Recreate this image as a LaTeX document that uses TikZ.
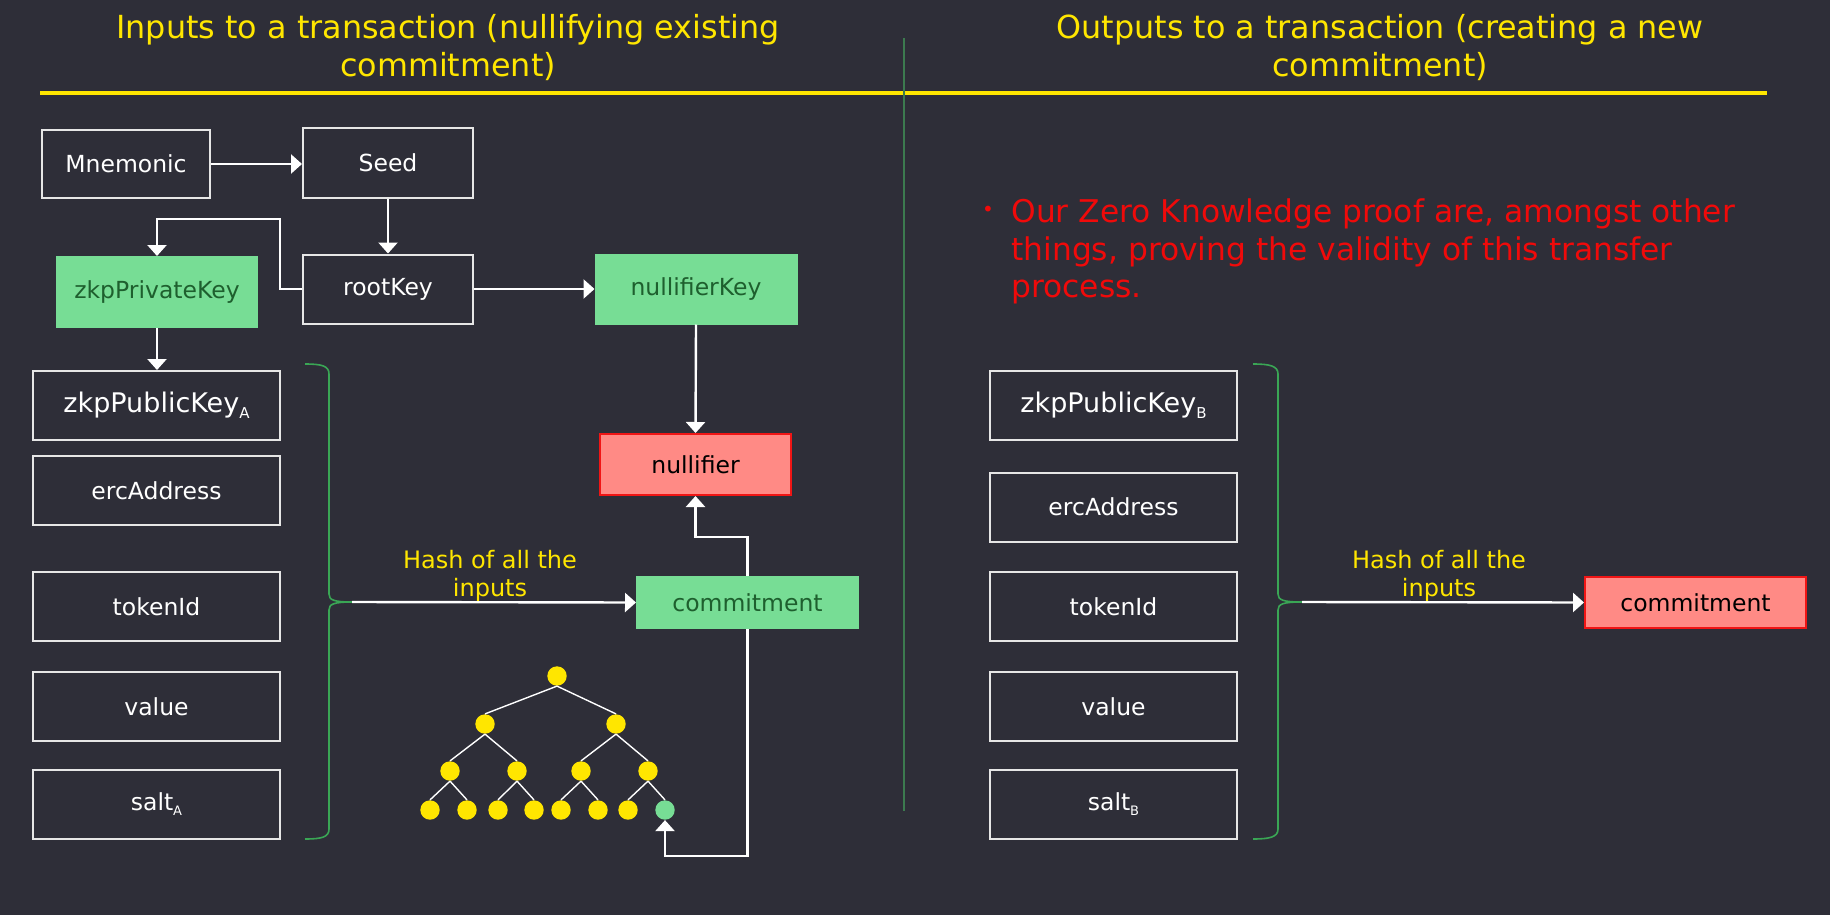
\documentclass[tikz,border=0pt]{standalone}
\usepackage{fontspec}
\setmainfont{DejaVu Sans}
\usetikzlibrary{arrows.meta}
\definecolor{bg}{HTML}{2E2E38}
\definecolor{boxline}{HTML}{E6E6E6}
\definecolor{gfill}{HTML}{77DD95}
\definecolor{gtext}{HTML}{1E5F2E}
\definecolor{rfill}{HTML}{FF8A85}
\definecolor{rborder}{HTML}{F01515}
\definecolor{tyellow}{HTML}{FFE600}
\definecolor{tred}{HTML}{F00A0A}
\definecolor{divider}{HTML}{3C7A4F}
\definecolor{bracec}{HTML}{3AA655}
\newcommand{\boxfont}{\fontsize{11.75}{14}\selectfont}
\newcommand{\bigboxfont}{\fontsize{13.5}{16}\selectfont}
\newcommand{\titlefont}{\fontsize{15.9}{19.25}\selectfont}
\newcommand{\notefont}{\fontsize{15.65}{18.7}\selectfont}
\newcommand{\hashfont}{\fontsize{12}{14}\selectfont}
\newcommand{\mysubA}[2]{\raisebox{-#2}{\fontsize{#1}{#1}\selectfont A}}
\newcommand{\mysubB}[2]{\raisebox{-#2}{\fontsize{#1}{#1}\selectfont B}}
\begin{document}
\begin{tikzpicture}[x=0.5pt,y=-0.5pt,
  box/.style={draw=boxline, line width=1pt, text=white, font=\boxfont, inner sep=0pt, minimum width=123.5pt, minimum height=34.5pt},
  gbox/.style={box, fill=gfill, draw=gfill, text=gtext},
  rbox/.style={box, fill=rfill, draw=rborder, text=black},
  arr/.style={draw=white, line width=1.2pt, -{Triangle[length=5.5pt,width=9.5pt]}},
  tnode/.style={circle, fill=tyellow, minimum size=9.7pt, inner sep=0pt},
  tedge/.style={draw=white, line width=0.7pt},
  brace/.style={draw=bracec, line width=0.8pt},
  title/.style={text=tyellow, font=\titlefont, align=center},
  hash/.style={text=tyellow, font=\hashfont, align=center}
]
\fill[bg] (0,0) rectangle (1830,915);
\useasboundingbox (0,0) rectangle (1830,915);

% titles and rules
\node[title] (t1) at (448,47.5) {Inputs to a transaction (nullifying existing\\commitment)};
\node[title] (t2) at (1380,47.5) {Outputs to a transaction (creating a new\\commitment)};
\draw[tyellow, line width=2pt] (40,93) -- (1767,93);
\draw[divider, line width=0.6pt] (904,38) -- (904,811);

% left upper chain
\node[box, minimum width=84pt, minimum height=34pt] (mn) at (126,164) {Mnemonic};
\node[box, minimum width=85pt, minimum height=35pt] (seed) at (388,163) {Seed};
\node[gbox, minimum width=100pt, minimum height=35pt] (zpriv) at (157,292) {zkpPrivateKey};
\node[box, minimum width=85pt, minimum height=34.5pt] (root) at (388,289) {rootKey};
\node[gbox, minimum width=100.5pt, minimum height=34.5pt] (nkey) at (696,289) {nullifierKey};

% left column
\node[box, font=\bigboxfont] (zpubA) at (156.5,405.5) {zkpPublicKey\mysubA{7.5pt}{3pt}};
\node[box] (ercA) at (156.5,490.5) {ercAddress};
\node[box] (tokA) at (156.5,606.5) {tokenId};
\node[box] (valA) at (156.5,706.5) {value};
\node[box] (saltA) at (156.5,804.5) {salt\mysubA{6.5pt}{2.5pt}};

\node[rbox, minimum width=95.5pt, minimum height=30.5pt] (nullifier) at (695.5,464.5) {nullifier};
\node[gbox, minimum width=110.5pt, minimum height=25.5pt] (commitL) at (747.5,602.5) {commitment};

% right column
\node[box, font=\bigboxfont] (zpubB) at (1113.5,405.5) {zkpPublicKey\mysubB{7.5pt}{3pt}};
\node[box] (ercB) at (1113.5,507) {ercAddress};
\node[box] (tokB) at (1113.5,606.5) {tokenId};
\node[box] (valB) at (1113.5,706.5) {value};
\node[box] (saltB) at (1113.5,804.5) {salt\mysubB{6.5pt}{2.5pt}};
\node[rbox, minimum width=110.5pt, minimum height=25.5pt] (commitR) at (1695.5,602.5) {commitment};

% braces
\draw[brace] (305,364) .. controls (322,364) and (329,366) .. (329,374) -- (329,594) .. controls (329,600) and (334,602) .. (352,602);
\draw[brace] (305,839) .. controls (322,839) and (329,837) .. (329,829) -- (329,610) .. controls (329,604) and (334,602) .. (352,602);
\draw[brace] (1253,364) .. controls (1270,364) and (1278,366) .. (1278,374) -- (1278,594) .. controls (1278,600) and (1283,602) .. (1302,602);
\draw[brace] (1253,839) .. controls (1270,839) and (1278,837) .. (1278,829) -- (1278,610) .. controls (1278,604) and (1283,602) .. (1302,602);
\coordinate (bL) at (352,602);
\coordinate (bR) at (1302,602);

% hash labels
\node[hash] (hL) at (490,576) {Hash of all the\\inputs};
\node[hash] (hR) at (1439,576) {Hash of all the\\inputs};

% note
\node[text=tred, font=\fontsize{10}{12}\selectfont, anchor=center] (bul) at (988,211) {•};
\node[text=tred, font=\notefont, align=left, anchor=north west, inner sep=0pt] (note) at (1011,198.5)
  {Our Zero Knowledge proof are, amongst other\\things, proving the validity of this transfer\\process.};

% tree
\node[tnode] (r) at (557,676) {};
\node[tnode] (a1) at (485,724) {};
\node[tnode] (a2) at (616,724) {};
\node[tnode] (b1) at (450,771) {};
\node[tnode] (b2) at (517,771) {};
\node[tnode] (b3) at (581,771) {};
\node[tnode] (b4) at (648,771) {};
\node[tnode] (l1) at (430,810) {};
\node[tnode] (l2) at (467,810) {};
\node[tnode] (l3) at (498,810) {};
\node[tnode] (l4) at (534,810) {};
\node[tnode] (l5) at (561,810) {};
\node[tnode] (l6) at (598,810) {};
\node[tnode] (l7) at (628,810) {};
\node[tnode, fill=gfill] (l8) at (665,810) {};
\draw[tedge] (r.south) -- (a1.north);
\draw[tedge] (r.south) -- (a2.north);
\draw[tedge] (a1.south) -- (b1.north);
\draw[tedge] (a1.south) -- (b2.north);
\draw[tedge] (a2.south) -- (b3.north);
\draw[tedge] (a2.south) -- (b4.north);
\draw[tedge] (b1.south) -- (l1.north);
\draw[tedge] (b1.south) -- (l2.north);
\draw[tedge] (b2.south) -- (l3.north);
\draw[tedge] (b2.south) -- (l4.north);
\draw[tedge] (b3.south) -- (l5.north);
\draw[tedge] (b3.south) -- (l6.north);
\draw[tedge] (b4.south) -- (l7.north);
\draw[tedge] (b4.south) -- (l8.north);

% connectors
\draw[arr] (mn.east) -- (seed.west |- mn.east);
\draw[arr] (seed.south) -- (root.north);
\coordinate (r1) at (280,219);
\draw[arr] (root.west) -| (r1) -| (zpriv.north);
\draw[arr] (root.east) -- (nkey.west);
\draw[arr] (zpriv.south) -- (zpubA.north -| zpriv.south);
\draw[arr] (nkey.south) -- (nullifier.north);
\coordinate (c1) at (747.5,537);
\draw[arr] (commitL.north) -- (c1) -| (nullifier.south);
\coordinate (c2) at (747.5,856);
\draw[arr] (commitL.south) -- (c2) -| (l8.south);
\draw[arr] (bL) -- (commitL.west);
\draw[arr] (bR) -- (commitR.west);
\end{tikzpicture}
\end{document}
